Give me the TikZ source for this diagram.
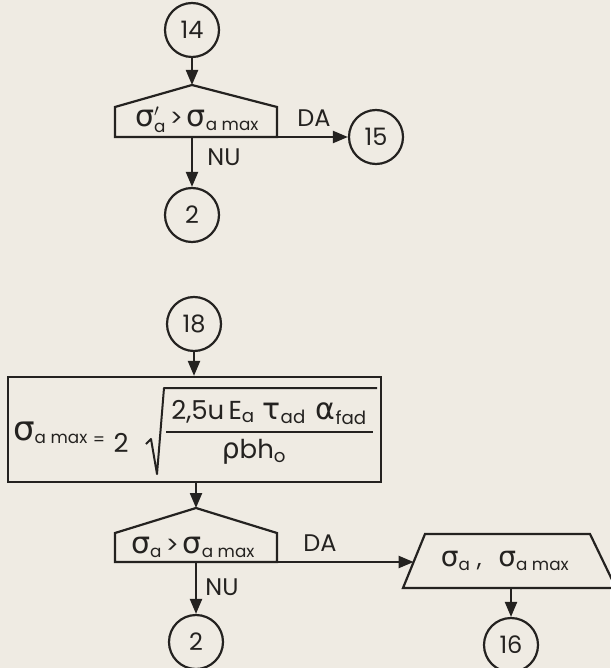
\documentclass[tikz,border=0pt]{standalone}
\usepackage{amsmath}
\usepackage{fontspec}
\setmainfont{Poppins}
\newfontfamily\gk{DejaVu Sans}
\usetikzlibrary{arrows.meta}
\definecolor{paper}{RGB}{239,235,227}
\definecolor{ink}{RGB}{36,34,32}
\newcommand{\gr}[2]{\text{\gk\fontsize{#1}{#1}\selectfont #2}}
\begin{document}
\begin{tikzpicture}[x=1pt,y=-1pt,
  ln/.style={draw=ink,line width=2.2pt,line join=miter},
  conn/.style={ln,circle,minimum size=54pt,inner sep=0pt,text=ink,font=\fontsize{24}{26}\selectfont},
  lab/.style={text=ink,font=\fontsize{24}{26}\selectfont,inner sep=0pt},
  arr/.style={ln,-{Triangle[length=15pt,width=12pt]}},
  txt/.style={text=ink,inner sep=0pt}]
\fill[paper] (0,0) rectangle (610,668);
\useasboundingbox (0,0) rectangle (610,668);

% ---------- upper part ----------
\node[conn] (c14) at (192,30) {14};
\coordinate (d1apex) at (192,85);
\coordinate (d1bl) at (115,137);
\coordinate (d1br) at (277,137);
\coordinate (d1base) at (192,137);
\draw[ln] (d1bl) -- (115,107) -- (d1apex) -- (277,107) -- (d1br) -- cycle;
\node[txt,font=\fontsize{24}{26}\selectfont] (d1) at (197,120)
  {$\gr{30}{σ}'_{\text{a}}$\,>\,$\gr{30}{σ}_{\text{a max}}$};
\draw[arr] (c14) -- (d1apex);
\node[conn] (c15) at (376,137) {15};
\draw[arr] (d1br) -- (c15);
\node[lab] (da1) at (314,118) {DA};
\node[conn] (c2a) at (192,215) {2};
\draw[arr] (d1base) -- (c2a);
\node[lab] (nu1) at (224,157) {NU};

% ---------- lower part ----------
\node[conn] (c18) at (194,324) {18};
\node[ln,minimum width=373pt,minimum height=105pt,inner sep=0pt] (box) at (194.5,429.5) {};
\draw[arr] (c18.south) -- (c18.south |- box.north);

\node[txt,anchor=base west,font=\fontsize{24}{26}\selectfont] (lhs) at (13,440)
  {$\gr{34}{σ}_{\text{a max}}$};
\node[txt,font=\fontsize{17}{20}\selectfont] (eq) at (99,441) {=};
\node[txt,font=\fontsize{26}{28}\selectfont] (two) at (121,443) {2};
\coordinate (radL) at (146,444);
\coordinate (radE) at (377,388);
\draw[ln,line width=2pt,line join=round] (radL) -- (151,439) -- (157,474) -- (164,388) -- (radE);
\coordinate (fracL) at (166,432);
\coordinate (fracR) at (373,432);
\draw[ln,line width=2pt] (fracL) -- (fracR);
\node[txt,anchor=base,font=\fontsize{26}{28}\selectfont] (num) at (269,419)
  {$\text{2,5u}\,\text{E}_{\text{a}}\hspace{8pt}\gr{30}{τ}_{\text{ad}}\hspace{10pt}\gr{30}{α}_{\text{fad}}$};
\node[txt,font=\fontsize{26}{28}\selectfont] (den) at (254,452)
  {$\gr{28}{ρ}\text{bh}_{\text{o}}$};

\coordinate (d2apex) at (196,508);
\coordinate (d2bl) at (115,562);
\coordinate (d2br) at (277,562);
\coordinate (d2base) at (196,562);
\draw[ln] (d2bl) -- (115,533) -- (d2apex) -- (277,533) -- (d2br) -- cycle;
\node[txt,font=\fontsize{24}{26}\selectfont] (d2) at (193,547)
  {$\gr{30}{σ}_{\text{a}}$\,>\,$\gr{30}{σ}_{\text{a max}}$};
\draw[arr] (box.south -| d2apex) -- (d2apex);
\node[lab] (da2) at (320,543) {DA};
\node[lab] (nu2) at (222,587) {NU};
\node[conn] (c2b) at (196,642) {2};
\draw[arr] (d2base) -- (c2b);

\coordinate (tl) at (413.6,562);
\coordinate (tb) at (511,588);
\draw[ln] (425,534) -- (590,534) -- (616,588) -- (403,588) -- cycle;
\node[txt,font=\fontsize{24}{26}\selectfont] (out) at (505,561)
  {$\gr{28}{σ}_{\text{a}}$ , \, $\gr{28}{σ}_{\text{a max}}$};
\draw[arr] (d2br) -- (tl);
\node[conn] (c16) at (511,645) {16};
\draw[arr] (tb) -- (c16);
\end{tikzpicture}
\end{document}
